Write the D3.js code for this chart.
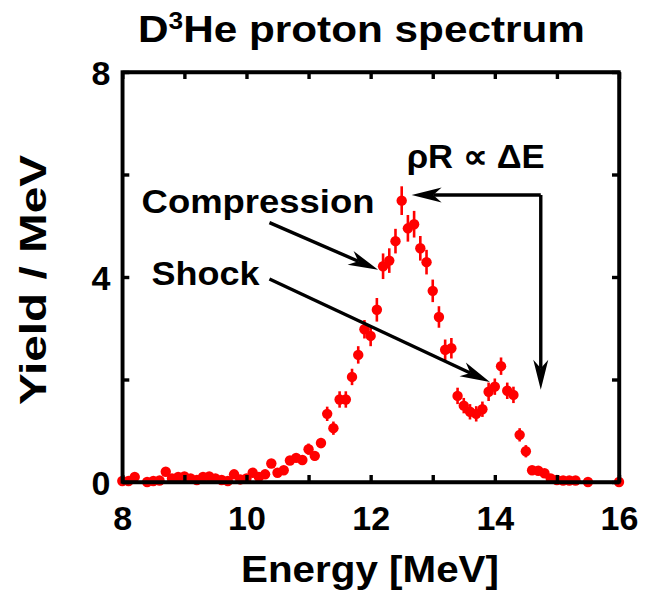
<!DOCTYPE html>
<html>
<head>
<meta charset="utf-8">
<script src="https://cdn.jsdelivr.net/npm/d3@7"></script>
<style>
  html, body { margin: 0; padding: 0; background: #fff; }
  svg { display: block; }
  text { font-family: "Liberation Sans", Arial, Helvetica, sans-serif; font-weight: bold; fill: #000; }
</style>
</head>
<body>
<svg id="chart" width="645" height="594"></svg>
<script>
// Measured D3He proton spectrum: energy bins [MeV], yield [1/MeV] and 1-sigma errors
const energy = [
  8.0, 8.1, 8.2, 8.4, 8.5, 8.6, 8.7, 8.8, 8.9, 9.0,
  9.1, 9.2, 9.3, 9.4, 9.5, 9.6, 9.7, 9.8, 9.9, 10.0,
  10.1, 10.2, 10.3, 10.4, 10.5, 10.6, 10.7, 10.8, 10.9, 11.0,
  11.1, 11.2, 11.3, 11.4, 11.5, 11.6, 11.7, 11.8, 11.9, 12.0,
  12.1, 12.2, 12.3, 12.4, 12.5, 12.6, 12.7, 12.8, 12.9, 13.0,
  13.1, 13.2, 13.3, 13.4, 13.5, 13.6, 13.7, 13.8, 13.9, 14.0,
  14.1, 14.2, 14.3, 14.4, 14.5, 14.6, 14.7, 14.8, 14.9, 15.0,
  15.1, 15.2, 15.3, 15.5, 16.0
];
const yieldPerMeV = [
  0.02, 0.02, 0.10, 0.00, 0.02, 0.03, 0.20, 0.07, 0.10, 0.11,
  0.07, 0.04, 0.10, 0.11, 0.07, 0.04, 0.02, 0.15, 0.05, 0.07,
  0.18, 0.10, 0.15, 0.36, 0.18, 0.23, 0.42, 0.47, 0.43, 0.64,
  0.51, 0.76, 1.33, 1.05, 1.61, 1.61, 2.05, 2.48, 2.98, 2.85,
  3.36, 4.21, 4.32, 4.70, 5.49, 4.95, 5.03, 4.56, 4.29, 3.73,
  3.22, 2.58, 2.61, 1.68, 1.49, 1.37, 1.33, 1.42, 1.76, 1.86,
  2.26, 1.78, 1.70, 0.92, 0.60, 0.23, 0.22, 0.17, 0.07, 0.04,
  0.03, 0.03, 0.03, 0.00, 0.00
];
const yieldErr = [
  0.04, 0.04, 0.05, 0.03, 0.04, 0.04, 0.05, 0.04, 0.05, 0.05,
  0.04, 0.04, 0.05, 0.05, 0.04, 0.04, 0.04, 0.05, 0.04, 0.04,
  0.05, 0.05, 0.05, 0.07, 0.05, 0.06, 0.08, 0.08, 0.08, 0.11,
  0.09, 0.10, 0.14, 0.13, 0.16, 0.16, 0.16, 0.17, 0.18, 0.20,
  0.23, 0.25, 0.24, 0.24, 0.28, 0.26, 0.26, 0.24, 0.24, 0.22,
  0.21, 0.20, 0.20, 0.16, 0.15, 0.15, 0.15, 0.15, 0.18, 0.16,
  0.17, 0.16, 0.16, 0.13, 0.12, 0.06, 0.06, 0.05, 0.03, 0.03,
  0.02, 0.02, 0.02, 0.01, 0.01
];

const xTicks = [8, 9, 10, 11, 12, 13, 14, 15, 16];
const xTickLabels = ["8", "", "10", "", "12", "", "14", "", "16"];
const yTicks = [0, 2, 4, 6, 8];
const yTickLabels = ["0", "", "4", "", "8"];

const titleText = "proton spectrum";
const xTitle = "Energy [MeV]";
const yTitle = "Yield / MeV";

// Annotations placed in data coordinates (energy, yield)
const notes = [
  { text: "Compression", x: 8.31, y: 5.25, len: 233 },
  { text: "Shock", x: 8.47, y: 3.84, len: 108 },
  { text: "\u03C1R \u221D \u0394E", x: 12.58, y: 6.12, len: 138 }
];
const arrows = [
  { from: [10.37, 5.06], to: [12.12, 4.14] },
  { from: [10.37, 3.96], to: [13.92, 1.95] },
  { from: [14.74, 5.60], to: [12.66, 5.60] },
  { from: [14.74, 5.60], to: [14.74, 1.80] }
];

const svg = d3.select("#chart");
const plotLeft = 122.3, plotRight = 619, plotTop = 72, plotBottom = 482;

const x = d3.scaleLinear().domain([8, 16]).range([plotLeft, plotRight]);
const y = d3.scaleLinear().domain([0, 8]).range([plotBottom, plotTop]);

// Title with superscript mass number
const title = svg.append("text")
  .attr("x", 138).attr("y", 41.5)
  .attr("font-size", 37)
  .attr("textLength", 447).attr("lengthAdjust", "spacingAndGlyphs");
title.append("tspan").text("D");
title.append("tspan").attr("dy", -13).attr("font-size", 23).text("3");
title.append("tspan").attr("dy", 13).text("He " + titleText);

// Data: error bars then points
const pts = energy.map((e, i) => ({ e, v: yieldPerMeV[i], err: yieldErr[i] }));
const g = svg.append("g");
g.selectAll("line.err").data(pts).join("line")
  .attr("class", "err")
  .attr("x1", d => x(d.e)).attr("x2", d => x(d.e))
  .attr("y1", d => y(d.v - d.err)).attr("y2", d => y(d.v + d.err))
  .attr("stroke", "#ff0000").attr("stroke-width", 2.6);
g.selectAll("circle").data(pts).join("circle")
  .attr("cx", d => x(d.e)).attr("cy", d => y(d.v))
  .attr("r", 5.2).attr("fill", "#ff0000");

// Frame and ticks (mirrored on top and right)
const axisStroke = 3.4;
const tickLen = 7;
const xAxisB = d3.axisBottom(x).tickValues(xTicks).tickSizeInner(-tickLen).tickSizeOuter(0)
  .tickFormat((d, i) => xTickLabels[i]).tickPadding(14);
const xAxisT = d3.axisTop(x).tickValues(xTicks).tickSizeInner(-tickLen).tickSizeOuter(0).tickFormat("");
const yAxisL = d3.axisLeft(y).tickValues(yTicks).tickSizeInner(-tickLen).tickSizeOuter(0)
  .tickFormat((d, i) => yTickLabels[i]).tickPadding(14);
const yAxisR = d3.axisRight(y).tickValues(yTicks).tickSizeInner(-tickLen).tickSizeOuter(0).tickFormat("");

function style(sel) {
  sel.select(".domain").attr("stroke", "#000").attr("stroke-width", axisStroke);
  sel.selectAll(".tick line").attr("stroke", "#000").attr("stroke-width", axisStroke);
  sel.selectAll(".tick text")
    .attr("font-family", "'Liberation Sans', Arial, sans-serif")
    .attr("font-weight", "bold").attr("font-size", 34).attr("fill", "#000");
}
const gxb = svg.append("g").attr("transform", `translate(0,${plotBottom})`).call(xAxisB).call(style);
gxb.selectAll(".tick text").attr("dy", "0.71em").attr("y", 24);
svg.append("g").attr("transform", `translate(0,${plotTop})`).call(xAxisT).call(style);
const gyl = svg.append("g").attr("transform", `translate(${plotLeft},0)`).call(yAxisL).call(style);
gyl.selectAll(".tick text").attr("dy", "0.36em").attr("x", -12);
svg.append("g").attr("transform", `translate(${plotRight},0)`).call(yAxisR).call(style);
// square corners of the frame
svg.append("rect").attr("x", plotLeft).attr("y", plotTop)
  .attr("width", plotRight - plotLeft).attr("height", plotBottom - plotTop)
  .attr("fill", "none").attr("stroke", "#000").attr("stroke-width", axisStroke);

// Axis titles
svg.append("text").attr("x", 370).attr("y", 582).attr("text-anchor", "middle")
  .attr("font-size", 36).attr("textLength", 258).attr("lengthAdjust", "spacingAndGlyphs")
  .text(xTitle);
svg.append("text").attr("transform", "translate(46,280) rotate(-90)").attr("text-anchor", "middle")
  .attr("font-size", 36).attr("textLength", 250).attr("lengthAdjust", "spacingAndGlyphs")
  .text(yTitle);

// Annotation labels
svg.selectAll("text.note").data(notes).join("text")
  .attr("class", "note")
  .attr("x", d => x(d.x)).attr("y", d => y(d.y))
  .attr("font-size", 34)
  .attr("textLength", d => d.len).attr("lengthAdjust", "spacingAndGlyphs")
  .text(d => d.text);

// Arrows with barbed heads
const headLen = 30, headHalf = 7.5, notch = 0.72;
arrows.forEach(a => {
  const x0 = x(a.from[0]), y0 = y(a.from[1]), x1 = x(a.to[0]), y1 = y(a.to[1]);
  const ang = Math.atan2(y1 - y0, x1 - x0);
  const len = Math.hypot(x1 - x0, y1 - y0);
  const ga = svg.append("g").attr("transform", `translate(${x1},${y1}) rotate(${ang * 180 / Math.PI})`);
  ga.append("line").attr("x1", -len).attr("y1", 0).attr("x2", -headLen * notch).attr("y2", 0)
    .attr("stroke", "#000").attr("stroke-width", 3.4);
  ga.append("path")
    .attr("d", `M0,0 L${-headLen},${-headHalf} L${-headLen * notch},0 L${-headLen},${headHalf} Z`)
    .attr("fill", "#000");
});
</script>
</body>
</html>
